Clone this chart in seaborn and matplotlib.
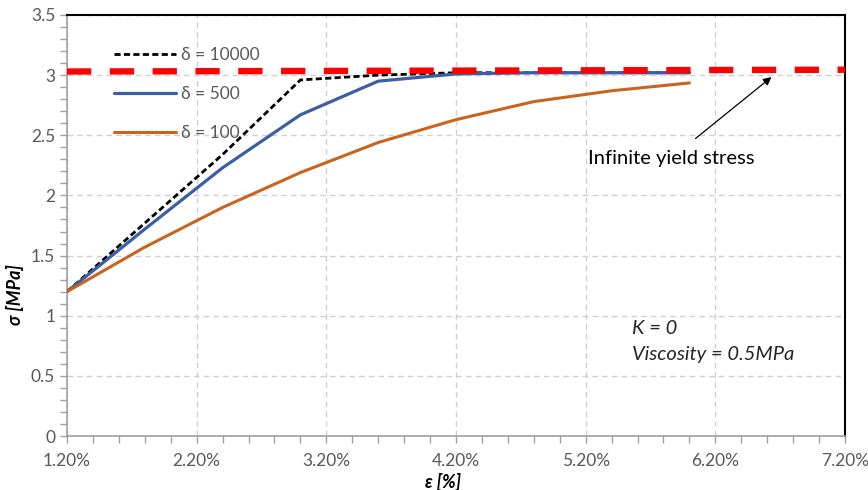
import matplotlib
matplotlib.use("Agg")
import matplotlib.pyplot as plt
from matplotlib.ticker import MultipleLocator, FuncFormatter
import pandas as pd
import seaborn as sns

# Strain [%] at which the stress was evaluated
strain = [1.2, 1.8, 2.4, 3.0, 3.6, 4.2, 4.8, 5.4, 6.0]

# Stress [MPa] for each relaxation parameter delta
stress_d10000 = [1.20, 1.77, 2.34, 2.96, 3.00, 3.02, 3.02, 3.02, 3.02]
stress_d500 = [1.20, 1.72, 2.23, 2.67, 2.95, 3.01, 3.02, 3.02, 3.02]
stress_d100 = [1.20, 1.57, 1.90, 2.19, 2.44, 2.63, 2.78, 2.87, 2.935]

# Infinite yield stress reference line
yield_x = [1.2, 7.2]
yield_y = [3.03, 3.045]

labels = ["δ = 10000", "δ = 500", "δ = 100"]
x_ticks = [1.2, 2.2, 3.2, 4.2, 5.2, 6.2, 7.2]

df = pd.DataFrame({
    "strain": strain * 3,
    "stress": stress_d10000 + stress_d500 + stress_d100,
    "case": [labels[0]] * len(strain) + [labels[1]] * len(strain) + [labels[2]] * len(strain),
})

sns.set_theme(style="white")
plt.rcParams["font.family"] = ["Lato", "DejaVu Sans"]

fig = plt.figure(figsize=(8.68, 4.90), dpi=100)
ax = fig.add_axes([0.0772, 0.1102, 0.8963, 0.8592])

gray_txt = "#595959"
styles = {
    labels[0]: dict(color="black", lw=2.0, dashes=(2.2, 1.2)),
    labels[1]: dict(color="#3b5fa5", lw=2.3, dashes=None),
    labels[2]: dict(color="#c8641e", lw=2.2, dashes=None),
}
for lab in labels:
    st = styles[lab]
    sub = df[df["case"] == lab]
    sns.lineplot(data=sub, x="strain", y="stress", ax=ax, color=st["color"],
                 linewidth=st["lw"], label=lab, zorder=3)
    if st["dashes"] is not None:
        ax.get_lines()[-1].set_dashes(st["dashes"])

sns.lineplot(x=yield_x, y=yield_y, ax=ax, color="#ff0000", linewidth=4.6,
             zorder=4, legend=False)
ax.get_lines()[-1].set_dashes((3.8, 2.9))
ax.get_lines()[-1].set_clip_on(False)

ax.set_xlim(1.2, 7.2)
ax.set_ylim(0, 3.5)
ax.set_xticks(x_ticks)
ax.xaxis.set_major_formatter(FuncFormatter(lambda v, p: f"{v:.2f}%"))
ax.xaxis.set_minor_locator(MultipleLocator(0.2))
ax.yaxis.set_major_locator(MultipleLocator(0.5))
ax.yaxis.set_minor_locator(MultipleLocator(0.1))
ax.yaxis.set_major_formatter(FuncFormatter(lambda v, p: f"{v:g}"))

ax.grid(True, which="major", color="#d0d0d0", linestyle=(0, (4, 3)), linewidth=1.0)
ax.tick_params(axis="both", which="both", direction="out", length=5, width=1,
               color="#a0a0a0", labelcolor=gray_txt, labelsize=12.5,
               bottom=True, left=True)
ax.tick_params(axis="x", pad=7)

for side in ["left", "bottom"]:
    ax.spines[side].set_color("#a0a0a0")
    ax.spines[side].set_linewidth(1.2)
for side in ["top", "right"]:
    ax.spines[side].set_color("black")
    ax.spines[side].set_linewidth(1.5)

ax.set_xlabel("ε [%]", fontsize=13, fontweight="bold", fontstyle="italic",
              color="black")
ax.set_ylabel("σ [MPa]", fontsize=13, fontweight="bold", fontstyle="italic",
              color="black")
ax.xaxis.set_label_coords(0.483, -0.088)
ax.yaxis.set_label_coords(-0.055, 0.335)

leg = ax.legend(loc="upper left", bbox_to_anchor=(0.04, 0.96), frameon=False,
                handlelength=3.6, labelspacing=1.3, handletextpad=0.25,
                fontsize=12.5)
for t in leg.get_texts():
    t.set_color(gray_txt)

ax.annotate("Infinite yield stress", xy=(6.633, 2.984), xytext=(5.86, 2.31),
            ha="center", va="center", fontsize=14.5, color="black",
            arrowprops=dict(arrowstyle="-|>", color="black", lw=0.9,
                            shrinkA=9, shrinkB=0, mutation_scale=12))

ax.text(5.555, 0.89, "K = 0", fontsize=14.5, fontstyle="italic", color="#262626",
        ha="left", va="center")
ax.text(5.555, 0.68, "Viscosity = 0.5MPa", fontsize=14.5, fontstyle="italic",
        color="#262626", ha="left", va="center")

fig.savefig("out.png", dpi=100)
